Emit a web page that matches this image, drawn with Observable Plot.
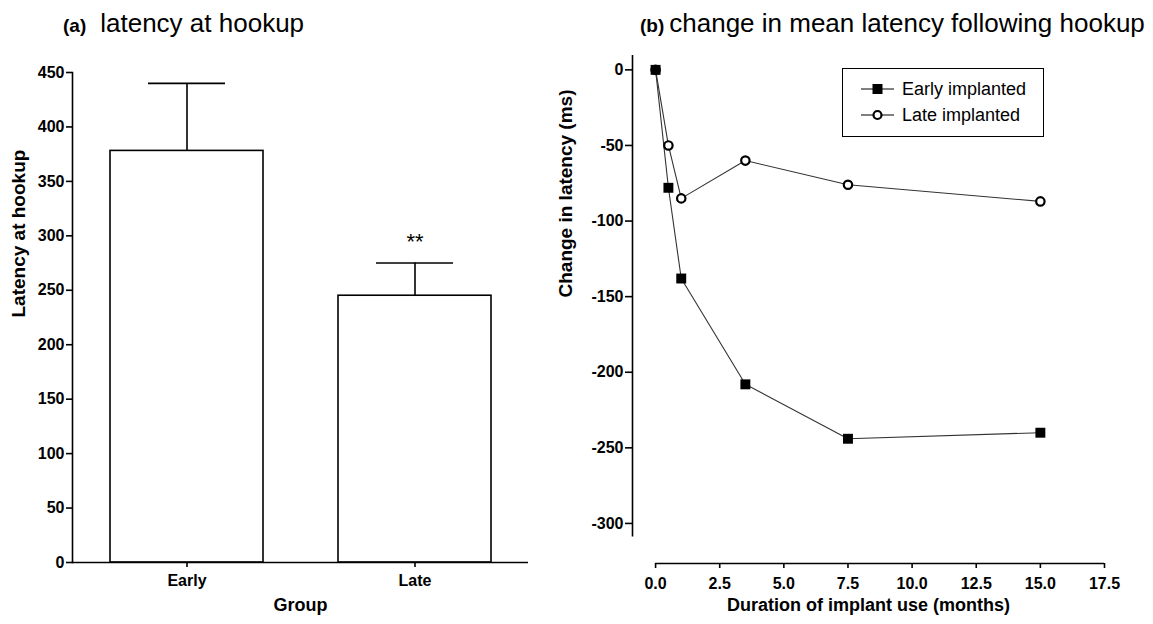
<!DOCTYPE html>
<html><head><meta charset="utf-8">
<script src="https://cdn.jsdelivr.net/npm/d3@7"></script>
<script src="https://cdn.jsdelivr.net/npm/@observablehq/plot@0.6"></script>
<style>
body{margin:0;background:#fff;}
#root{position:relative;width:1153px;height:624px;font-family:"Liberation Sans",Arial,sans-serif;color:#000;overflow:hidden;background:#fff}
.panel{position:absolute;top:0}
.title{position:absolute;display:flex;align-items:baseline;white-space:nowrap;line-height:26px}
.title b{font-size:19px;font-weight:bold}
.title span{font-size:26px}
.legend{position:absolute;border:1px solid #000;background:#fff;box-sizing:border-box;padding-top:7px}
.legend .row{display:flex;align-items:center;height:26px;font-size:18px;white-space:nowrap}
.legend svg{margin-left:18px;margin-right:8px}
</style></head><body><div id="root"></div>
<script>
// ---- Panel (a): latency at hookup ----
const groups = ["Early", "Late"];
const latencyMean = [378, 245];
const latencyUpper = [440, 275];
const significance = ["", "**"];
const yTicksA = [0, 50, 100, 150, 200, 250, 300, 350, 400, 450];

// ---- Panel (b): change in mean latency following hookup ----
const months = [0, 0.5, 1, 3.5, 7.5, 15];
const earlyChange = [0, -78, -138, -208, -244, -240];
const lateChange = [0, -50, -85, -60, -76, -87];
const seriesNames = ["Early implanted", "Late implanted"];
const xTicksB = [0, 2.5, 5, 7.5, 10, 12.5, 15, 17.5];
const yTicksB = [0, -50, -100, -150, -200, -250, -300];

// axis extents (data units)
const A_Y_DOMAIN = [0, 450];
const B_X_DOMAIN = [-0.9, 17.5];
const B_Y_DOMAIN = [-326.5, 9.5];
const B_Y_AXIS_BOTTOM = -309;

const FONT = '"Liberation Sans", Arial, Helvetica, sans-serif';
const root = document.getElementById("root");

const barData = groups.map((g, i) => ({group: g, mean: latencyMean[i], upper: latencyUpper[i], sig: significance[i]}));

const plotA = Plot.plot({
  width: 560, height: 624,
  marginLeft: 72, marginRight: 32, marginTop: 72, marginBottom: 62,
  style: {fontFamily: FONT, fontSize: "16px", fontWeight: "bold", color: "#000", background: "transparent", overflow: "visible"},
  x: {domain: groups, paddingInner: 0.33, paddingOuter: 0.165, axis: null},
  y: {domain: A_Y_DOMAIN, axis: null},
  marks: [
    Plot.ruleX(barData, {x: "group", y1: "mean", y2: "upper", stroke: "#000", strokeWidth: 1.6}),
    Plot.tickY(barData, {x: "group", y: "upper", inset: 38, stroke: "#000", strokeWidth: 1.6}),
    Plot.barY(barData, {x: "group", y: "mean", fill: "#fff", stroke: "#000", strokeWidth: 1.6}),
    Plot.text(barData, {x: "group", y: "upper", text: "sig", dy: -21, fontSize: 22, fontWeight: "normal"}),
    Plot.frame({anchor: "left", stroke: "#000", strokeWidth: 1.6}),
    Plot.ruleY([0], {stroke: "#000", strokeWidth: 1.6}),
    Plot.axisY({ticks: yTicksA, tickSize: 6, tickPadding: 2, fontSize: 16, label: null, strokeWidth: 1.6}),
    Plot.axisX({tickSize: 5, tickPadding: 7, fontSize: 16, label: null, strokeWidth: 1.6}),
    Plot.text(["Latency at hookup"], {frameAnchor: "left", rotate: -90, dx: -54, fontSize: 19}),
    Plot.text(["Group"], {frameAnchor: "bottom", dy: 48, fontSize: 18})
  ]
});
plotA.classList.add("panel");
plotA.style.left = "0px";
root.appendChild(plotA);

const lineData = months.flatMap((m, i) => [
  {m, v: earlyChange[i], s: seriesNames[0]},
  {m, v: lateChange[i], s: seriesNames[1]}
]);
const early = lineData.filter(d => d.s === seriesNames[0]);
const late = lineData.filter(d => d.s === seriesNames[1]);

const plotB = Plot.plot({
  width: 613, height: 624,
  marginLeft: 92, marginRight: 49, marginTop: 55, marginBottom: 61,
  style: {fontFamily: FONT, fontSize: "16px", fontWeight: "bold", color: "#000", background: "transparent", overflow: "visible"},
  x: {domain: B_X_DOMAIN, axis: null},
  y: {domain: B_Y_DOMAIN, axis: null},
  marks: [
    Plot.ruleX([B_X_DOMAIN[0]], {y1: B_Y_AXIS_BOTTOM, y2: B_Y_DOMAIN[1], stroke: "#000", strokeWidth: 1.6}),
    Plot.ruleY([B_Y_DOMAIN[0]], {x1: xTicksB[0], x2: xTicksB[xTicksB.length - 1], stroke: "#000", strokeWidth: 1.6}),
    Plot.axisY({ticks: yTicksB, tickSize: 7, tickPadding: 2, fontSize: 16, label: null, tickFormat: d => String(d), strokeWidth: 1.6}),
    Plot.axisX({ticks: xTicksB, tickSize: 5, tickPadding: 9, fontSize: 16, label: null, tickFormat: d => d.toFixed(1), strokeWidth: 1.6}),
    Plot.line(late, {x: "m", y: "v", stroke: "#333", strokeWidth: 1.1}),
    Plot.line(early, {x: "m", y: "v", stroke: "#333", strokeWidth: 1.1}),
    Plot.dot(late, {x: "m", y: "v", r: 4.2, stroke: "#000", strokeWidth: 2.2, fill: "#fff"}),
    Plot.dot(early, {x: "m", y: "v", symbol: "square", r: 5.6, fill: "#000", stroke: "none"}),
    Plot.text(["Change in latency (ms)"], {frameAnchor: "left", rotate: -90, dx: -67, dy: -12, fontSize: 19}),
    Plot.text(["Duration of implant use (months)"], {frameAnchor: "bottom", dy: 47, fontSize: 18})
  ]
});
plotB.classList.add("panel");
plotB.style.left = "540px";
root.appendChild(plotB);

// titles
function addTitle(letter, text, left, gap) {
  const t = document.createElement("div");
  t.className = "title";
  t.style.left = left + "px";
  t.style.top = "10px";
  const b = document.createElement("b"); b.textContent = letter; b.style.marginRight = gap + "px";
  const s = document.createElement("span"); s.textContent = text;
  t.append(b, s);
  root.appendChild(t);
}
addTitle("(a)", "latency at hookup", 63, 14);
addTitle("(b)", "change in mean latency following hookup", 640, 5);

// legend
const legend = document.createElement("div");
legend.className = "legend";
Object.assign(legend.style, {left: "842px", top: "68px", width: "202px", height: "69px"});
seriesNames.forEach((name, i) => {
  const row = document.createElement("div");
  row.className = "row";
  const marker = i === 0
    ? '<rect x="11.5" y="3" width="10" height="10" fill="#000"/>'
    : '<circle cx="16.5" cy="8" r="4" fill="#fff" stroke="#000" stroke-width="2.2"/>';
  row.innerHTML = '<svg width="33" height="16"><line x1="0" x2="33" y1="8" y2="8" stroke="#000" stroke-width="1"/>' + marker + '</svg>';
  const label = document.createElement("span");
  label.textContent = name;
  row.appendChild(label);
  legend.appendChild(row);
});
root.appendChild(legend);
</script></body></html>
